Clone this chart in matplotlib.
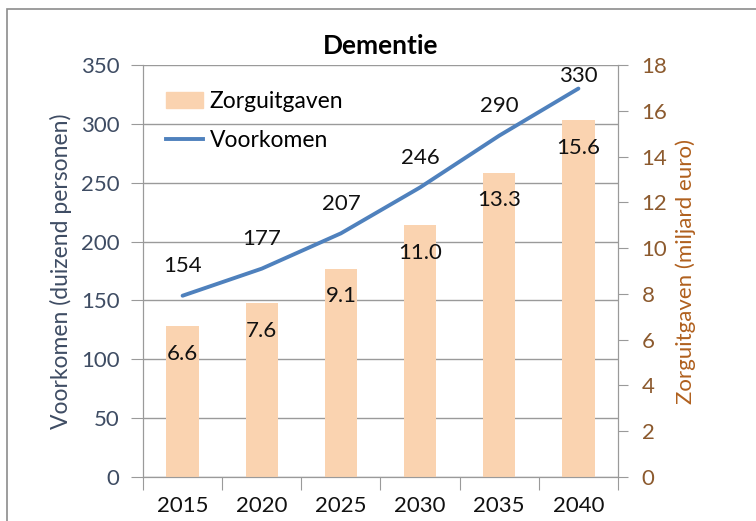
import matplotlib.pyplot as plt
from matplotlib.patches import Rectangle
from matplotlib.lines import Line2D
import numpy as np

plt.rcParams['font.family'] = ['Lato', 'DejaVu Sans']

years = ['2015', '2020', '2025', '2030', '2035', '2040']
voorkomen = [154, 177, 207, 246, 290, 330]          # duizend personen
zorguitgaven = [6.6, 7.6, 9.1, 11.0, 13.3, 15.6]     # miljard euro

blue = '#4F81BD'
peach = '#FAD3B0'
left_col = '#3E4C63'
right_col = '#8C5A2E'
grey = '#9A9A9A'
fs = 16

fig = plt.figure(figsize=(7.56, 5.21), dpi=100)
ax = fig.add_axes([143/756, 1 - 477/521, (618 - 143)/756, (477 - 65)/521])
ax2 = ax.twinx()

x = np.arange(len(years))

# line on the left axis, labels above the points (kept inside the plot area)
ax.plot(x, voorkomen, color=blue, lw=2.8, solid_capstyle='round')
for xi, v in zip(x, voorkomen):
    ax.text(xi, min(v + 25, 341), str(v), ha='center', va='center',
            fontsize=fs, color='#111111')
ax.set_ylim(0, 350)
ax.set_yticks(range(0, 351, 50))
ax.grid(axis='y', color=grey, lw=1)
ax.set_axisbelow(True)

# bars on the right axis, labels just below the bar tops
ax2.bar(x, zorguitgaven, width=0.41, color=peach, zorder=2)
for xi, v in zip(x, zorguitgaven):
    ax2.annotate('%.1f' % v, (xi, v), xytext=(0, -20), textcoords='offset points',
                 ha='center', va='center', fontsize=fs, color='#111111')
ax2.set_ylim(0, 18)
ax2.set_yticks(range(0, 19, 2))

ax.set_xlim(-0.5, 5.5)
ax.set_xticks(np.arange(-0.5, 6, 1))
ax.set_xticklabels([])
ax.set_xticks(x, minor=True)
ax.set_xticklabels(years, minor=True, fontsize=fs, color='#111111')
ax.tick_params(axis='x', which='major', length=9, color=grey, direction='out')
ax.tick_params(axis='x', which='minor', length=0, pad=14)

ax.tick_params(axis='y', length=9, color=grey, labelsize=fs, labelcolor=left_col, pad=8)
ax2.tick_params(axis='y', length=7, color=grey, labelsize=fs, labelcolor=right_col, pad=10)

for a in (ax, ax2):
    for s in a.spines.values():
        s.set_color(grey)
    a.spines['top'].set_visible(False)

ax.set_ylabel('Voorkomen (duizend personen)', fontsize=16.5, color=left_col, labelpad=6)
ax2.set_ylabel('Zorguitgaven (miljard euro)', fontsize=16, color='#B0601E', labelpad=6)
ax.set_title('Dementie', fontsize=19, fontweight='bold', pad=8)

handles = [Rectangle((0, 0), 1, 1, color=peach),
           Line2D([0], [0], color=blue, lw=2.8)]
ax2.legend(handles, ['Zorguitgaven', 'Voorkomen'], loc='upper left',
           bbox_to_anchor=(0.015, 0.975), frameon=False, fontsize=16.5,
           handlelength=1.6, handleheight=0.7, labelspacing=0.75, handletextpad=0.3,
           borderaxespad=0.3)

# outer frame of the chart
fig.patches.append(Rectangle((7/756, -0.1), 1.2, 1.1 - 9/521, transform=fig.transFigure,
                             fill=False, edgecolor='#8C8C8C', lw=1.2))

fig.savefig('out.png', dpi=100)
